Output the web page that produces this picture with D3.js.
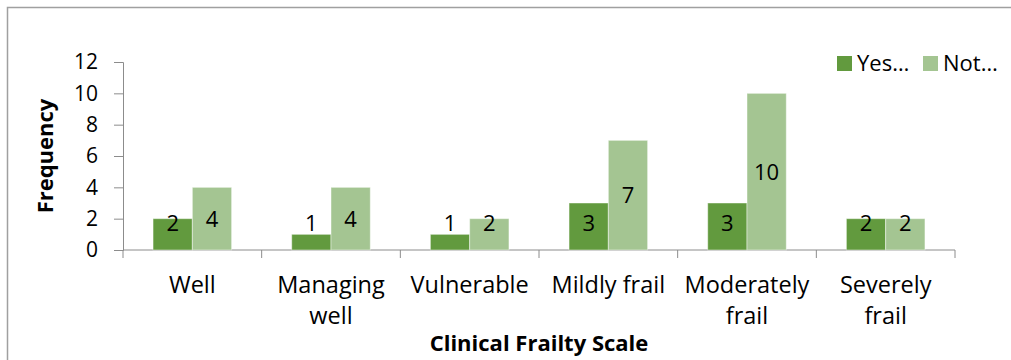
<!DOCTYPE html>
<html>
<head>
<meta charset="utf-8">
<script src="https://cdn.jsdelivr.net/npm/d3@7"></script>
<style>
  html, body { margin: 0; padding: 0; background: #fff; }
  svg { display: block; font-family: "Open Sans", Lato, sans-serif; }
</style>
</head>
<body>
<svg id="chart" width="1011" height="360"></svg>
<script>
// Clinical Frailty Scale categories, split over two lines for the axis
const categories = [
  ["Well"],
  ["Managing", "well"],
  ["Vulnerable"],
  ["Mildly frail"],
  ["Moderately", "frail"],
  ["Severely", "frail"]
];
const seriesNames = ["Yes…", "Not…"];
const yesValues = [2, 1, 1, 3, 3, 2];
const notValues = [4, 4, 2, 7, 10, 2];
const yTicks = [0, 2, 4, 6, 8, 10, 12];
const seriesColors = ["#629a3e", "#a4c592"];

const svg = d3.select("#chart");
const W = 1011, H = 360;
const axisColor = "#8c8c8c";
const fontFamily = "'Open Sans', Lato, sans-serif";

// outer chart frame
svg.append("rect")
  .attr("x", 7.5).attr("y", 7.5)
  .attr("width", W + 10).attr("height", H + 10)
  .attr("fill", "none").attr("stroke", "#a0a0a0").attr("stroke-width", 1.5);

const keys = categories.map(c => c.join(" "));
const x = d3.scaleBand().domain(keys).range([123, 955]).padding(0);
const x1 = d3.scaleBand().domain(seriesNames).range([0, x.bandwidth()])
  .paddingInner(0).paddingOuter(0.765);
const y = d3.scaleLinear().domain([0, 12]).range([250, 62]);

const rows = keys.map((k, i) => ({ key: k, values: [yesValues[i], notValues[i]] }));

// y axis
const yAxis = svg.append("g").attr("transform", "translate(123,0)")
  .call(d3.axisLeft(y).tickValues(yTicks).tickSize(9).tickPadding(16).tickFormat(d3.format("d")));
yAxis.select(".domain").attr("stroke", axisColor);
yAxis.selectAll(".tick line").attr("stroke", axisColor);
yAxis.selectAll(".tick text").attr("font-size", 21).attr("fill", "#000")
  .attr("font-family", fontFamily);

// x axis (baseline with ticks between categories)
const xAxisG = svg.append("g");
xAxisG.append("line")
  .attr("x1", x.range()[0]).attr("x2", x.range()[1])
  .attr("y1", y(0)).attr("y2", y(0))
  .attr("stroke", axisColor);
const bounds = keys.map(k => x(k)).concat([x.range()[1]]);
xAxisG.selectAll("line.tk").data(bounds).join("line").attr("class", "tk")
  .attr("x1", d => d).attr("x2", d => d)
  .attr("y1", y(0)).attr("y2", y(0) + 8)
  .attr("stroke", axisColor);

// bars
const groups = svg.append("g").selectAll("g").data(rows).join("g")
  .attr("transform", d => `translate(${x(d.key)},0)`);
groups.selectAll("rect").data(d => d.values.map((v, j) => ({ v, s: seriesNames[j], j })))
  .join("rect")
  .attr("x", d => x1(d.s))
  .attr("y", d => y(d.v))
  .attr("width", x1.bandwidth())
  .attr("height", d => y(0) - y(d.v))
  .attr("fill", d => seriesColors[d.j])
  .attr("stroke", "#ffffff").attr("stroke-opacity", 0.45).attr("stroke-width", 1);

// value labels, centred in each bar but kept clear of the baseline
groups.selectAll("text").data(d => d.values.map((v, j) => ({ v, s: seriesNames[j] })))
  .join("text")
  .attr("x", d => x1(d.s) + x1.bandwidth() / 2)
  .attr("y", d => Math.min((y(d.v) + y(0)) / 2, y(0) - 27))
  .attr("dy", "0.36em")
  .attr("text-anchor", "middle")
  .attr("font-size", 22)
  .attr("fill", "#000")
  .text(d => d.v);

// category labels
const catText = svg.append("g").selectAll("text").data(categories).join("text")
  .attr("x", (d, i) => x(keys[i]) + x.bandwidth() / 2)
  .attr("y", 293)
  .attr("text-anchor", "middle")
  .attr("font-size", 23.5)
  .attr("fill", "#000");
catText.selectAll("tspan").data(d => d).join("tspan")
  .attr("x", function () { return this.parentNode.getAttribute("x"); })
  .attr("dy", (d, i) => i === 0 ? 0 : 31)
  .text(d => d);

// axis titles
svg.append("text")
  .attr("x", 539).attr("y", 351)
  .attr("text-anchor", "middle")
  .attr("font-size", 22).attr("font-weight", "bold")
  .text("Clinical Frailty Scale");

svg.append("text")
  .attr("transform", "translate(53,156) rotate(-90)")
  .attr("text-anchor", "middle")
  .attr("font-size", 22).attr("font-weight", "bold")
  .text("Frequency");

// legend
const legend = svg.append("g");
const legendX = [837, 923];
seriesNames.forEach((name, i) => {
  legend.append("rect")
    .attr("x", legendX[i]).attr("y", 56)
    .attr("width", 15).attr("height", 15)
    .attr("fill", seriesColors[i]);
  legend.append("text")
    .attr("x", legendX[i] + 20).attr("y", 71)
    .attr("font-size", 22)
    .attr("fill", "#000")
    .text(name);
});
</script>
</body>
</html>
